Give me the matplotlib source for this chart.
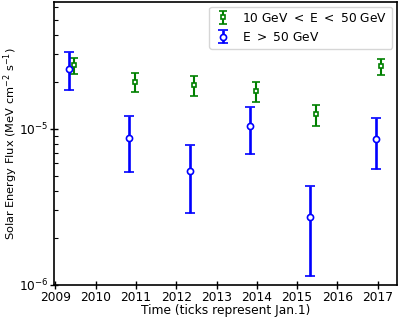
import matplotlib
matplotlib.use("Agg")
import matplotlib.pyplot as plt
import numpy as np

# data
years_low = [2009.47, 2010.97, 2012.45, 2013.97, 2015.46, 2017.09]
flux_low = [2.55e-5, 1.99e-5, 1.905e-5, 1.75e-5, 1.24e-5, 2.51e-5]
flux_low_hi = [2.84e-5, 2.29e-5, 2.19e-5, 2.00e-5, 1.425e-5, 2.81e-5]
flux_low_lo = [2.25e-5, 1.71e-5, 1.63e-5, 1.49e-5, 1.045e-5, 2.22e-5]

years_high = [2009.34, 2010.83, 2012.34, 2013.83, 2015.33, 2016.96]
flux_high = [2.43e-5, 8.72e-6, 5.38e-6, 1.045e-5, 2.73e-6, 8.67e-6]
flux_high_hi = [3.10e-5, 1.206e-5, 7.86e-6, 1.39e-5, 4.29e-6, 1.18e-5]
flux_high_lo = [1.78e-5, 5.32e-6, 2.90e-6, 6.89e-6, 1.15e-6, 5.57e-6]

xticks = [2009, 2010, 2011, 2012, 2013, 2014, 2015, 2016, 2017]

fs = 8.8
fig = plt.figure(figsize=(3.99, 3.17), dpi=100)
ax = fig.add_axes([0.136, 0.101, 0.859, 0.893])

lo_err = [np.array(flux_low) - np.array(flux_low_lo), np.array(flux_low_hi) - np.array(flux_low)]
hi_err = [np.array(flux_high) - np.array(flux_high_lo), np.array(flux_high_hi) - np.array(flux_high)]

ax.errorbar(years_low, flux_low, yerr=lo_err, fmt='s', color='g', mfc='white', mec='g',
            ms=3.4, mew=1.2, elinewidth=1.5, capsize=3.1, capthick=1.5,
            label=r'10 GeV $<$ E $<$ 50 GeV')
ax.errorbar(years_high, flux_high, yerr=hi_err, fmt='o', color='b', mfc='white', mec='b',
            ms=4.4, mew=1.2, elinewidth=1.9, capsize=3.6, capthick=1.9,
            label=r'E $>$ 50 GeV')

ax.set_yscale('log')
ax.set_ylim(1e-6, 6.5e-5)
ax.set_xlim(2008.97, 2017.48)
ax.set_xticks(xticks)
ax.set_xticklabels([str(t) for t in xticks])

ax.tick_params(axis='both', which='major', direction='inout', length=6, width=1.0, labelsize=fs,
               top=False, right=False, pad=1)
ax.tick_params(axis='y', which='minor', direction='in', length=3, width=0.8, right=False)
ax.tick_params(axis='x', which='minor', bottom=False)
for s in ax.spines.values():
    s.set_linewidth(1.2)

ax.set_xlabel('Time (ticks represent Jan.1)', fontsize=fs, labelpad=0)
ylab = ax.set_ylabel(r'Solar Energy Flux (MeV cm$^{-2}$ s$^{-1}$)', fontsize=8.2)
ax.yaxis.set_label_coords(-0.128, 0.5)
ylab.set_verticalalignment('center')

ax.legend(loc='upper right', fontsize=fs, frameon=True, borderaxespad=0.4, handlelength=1.5)

fig.savefig('out.png', dpi=100)
